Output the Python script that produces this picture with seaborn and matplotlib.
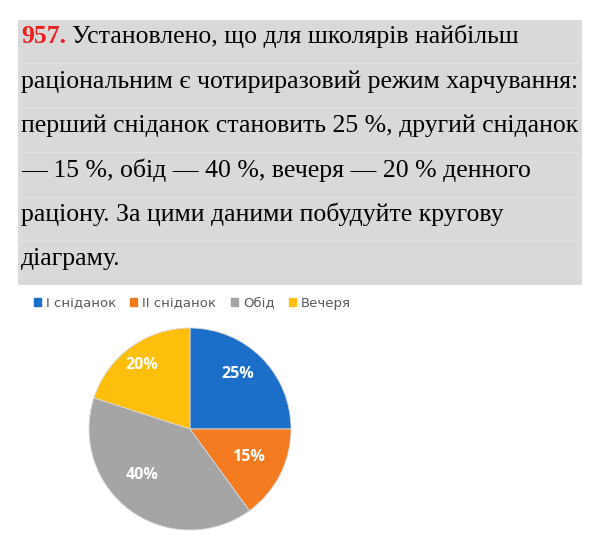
import matplotlib

matplotlib.use("Agg")
import matplotlib.patches as mpatches
import matplotlib.pyplot as plt
import numpy as np
import seaborn as sns

# chart data
meals = ["I сніданок", "II сніданок", "Обід", "Вечеря"]
shares = [25, 15, 40, 20]
colors = ["#1c6fc8", "#f47b20", "#a5a5a5", "#fdbf0c"]

# task text above the chart
task_number = "957."
task_lines = [
    "Установлено, що для школярів найбільш",
    "раціональним є чотириразовий режим харчування:",
    "перший сніданок становить 25 %, другий сніданок",
    "— 15 %, обід — 40 %, вечеря — 20 % денного",
    "раціону. За цими даними побудуйте кругову",
    "діаграму.",
]


def main():
    sns.set_theme(style="white")
    plt.rcParams["font.family"] = ["Liberation Serif", "DejaVu Serif"]

    W, H = 600, 555
    fig = plt.figure(figsize=(W / 100, H / 100), dpi=100)
    fig.patch.set_facecolor("white")

    def fx(px):
        return px / W

    def fy(py):
        return 1 - py / H

    # grey task box
    fig.patches.append(
        mpatches.Rectangle(
            (fx(18), fy(285)), fx(582) - fx(18), fy(20) - fy(285),
            transform=fig.transFigure, facecolor="#d9d9d9", edgecolor="none",
            zorder=0,
        )
    )
    for sep in [63, 108, 152, 197, 241]:
        fig.add_artist(
            plt.Line2D([fx(18), fx(582)], [fy(sep), fy(sep)],
                       transform=fig.transFigure, color="#e1e1e1", lw=0.8)
        )

    # fit font size so the widest line fills the box
    renderer = fig.canvas.get_renderer()
    probe = fig.text(0, 0, task_lines[1], fontsize=17)
    width = probe.get_window_extent(renderer).width
    probe.remove()
    fs = 17 * 556 / width

    baselines = [43, 88, 132, 177, 221, 265]
    num = fig.text(fx(21), fy(baselines[0]), task_number, fontsize=fs,
                   fontweight="bold", color="#ee1c1c", va="baseline")
    num_w = num.get_window_extent(renderer).width
    fig.text(fx(21 + num_w + fs * 0.33), fy(baselines[0]), task_lines[0],
             fontsize=fs, color="black", va="baseline")
    for line, base in zip(task_lines[1:], baselines[1:]):
        fig.text(fx(21), fy(base), line, fontsize=fs, color="black",
                 va="baseline")

    # pie chart
    ax = fig.add_axes([fx(89), fy(530), fx(291) - fx(89), fy(328) - fy(530)])
    wedges, _, autotexts = ax.pie(
        shares,
        colors=colors,
        startangle=90,
        counterclock=False,
        autopct="%d%%",
        pctdistance=0.7,
        wedgeprops={"linewidth": 0.6, "edgecolor": "#d8d8d8"},
        textprops={"color": "white", "fontsize": 11.5, "fontweight": "bold",
                   "family": ["Open Sans", "DejaVu Sans"]},
    )
    # excel-like "best fit" label spots (distance, angle shift in degrees)
    label_dist = [0.72, 0.64, 0.66, 0.79]
    label_shift = [4, 1, -10, 1]
    for w, t, d, s in zip(wedges, autotexts, label_dist, label_shift):
        mid = np.deg2rad((w.theta1 + w.theta2) / 2 + s)
        t.set_position((d * np.cos(mid), d * np.sin(mid)))
    ax.set_xlim(-1, 1)
    ax.set_ylim(-1, 1)
    ax.set_aspect("equal")
    ax.axis("off")

    handles = [mpatches.Patch(color=c, label=m) for c, m in zip(colors, meals)]
    leg = fig.legend(
        handles=handles,
        loc="center left",
        bbox_to_anchor=(fx(23), fy(303)),
        ncol=4,
        frameon=False,
        handlelength=0.53,
        handleheight=0.53,
        handletextpad=0.38,
        columnspacing=1.1,
        borderpad=0.3,
        prop={"family": ["DejaVu Sans"], "size": 9.5},
    )
    for t in leg.get_texts():
        t.set_color("#595959")

    fig.savefig("out.png", dpi=100)


if __name__ == "__main__":
    main()
